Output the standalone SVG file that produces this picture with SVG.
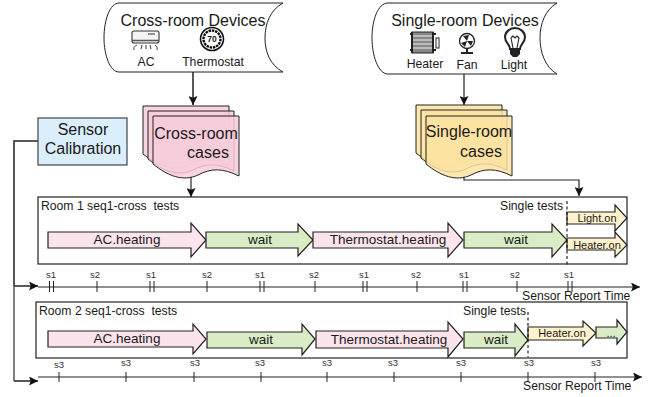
<svg xmlns="http://www.w3.org/2000/svg" width="657" height="397" viewBox="0 0 657 397">
<style>
text{font-family:"Liberation Sans",Arial,sans-serif;fill:#1a1a1a;white-space:pre}
.c{text-anchor:middle}
.t16{font-size:16px}.t135{font-size:13.5px}.t12{font-size:12.2px}.t11{font-size:11px}.t10{font-size:9.5px;fill:#333}
.cyl{fill:#fff;stroke:#222;stroke-width:1}
.pink{fill:#f8cdda;stroke:#222;stroke-width:1;fill-opacity:.85}
.yel{fill:#fde3a2;stroke:#222;stroke-width:1;fill-opacity:.85}
.box{fill:#fff;stroke:#222;stroke-width:1.2}
.a1{fill:#fce4ec;stroke:#222;stroke-width:1.2}
.a2{fill:#d9ecc6;stroke:#222;stroke-width:1.2}
.a3{fill:#fff2cc;stroke:#222;stroke-width:1.2}
.ln{fill:none;stroke:#222;stroke-width:1.2}
.ln2{fill:none;stroke:#222;stroke-width:1.5}
.tk{fill:none;stroke:#222;stroke-width:1}
.dash{fill:none;stroke:#111;stroke-width:1.1;stroke-dasharray:3 2.5}
.ic{fill:none;stroke:#222;stroke-width:1.3}
.icf{fill:#222;stroke:none}
</style>
<defs>
<marker id="ah" viewBox="0 0 10 10" refX="10" refY="5" markerWidth="10" markerHeight="9" markerUnits="userSpaceOnUse" orient="auto"><path d="M0 0L10 5L0 10L2 5Z" fill="#111"/></marker>
<path id="doc" d="M0 0H86V60C70 52 58 52 45 59C30 66 15 60 0 48Z"/>
</defs>
<g id="connectors">
<path class="ln2" d="M193 72V105" marker-end="url(#ah)"/>
<path class="ln" d="M464 74V105" marker-end="url(#ah)"/>
<path class="ln" d="M191 176V197" marker-end="url(#ah)"/>
<path class="ln" d="M464 176V180H579V196" marker-end="url(#ah)"/>
<path class="ln2" d="M38 141H14V286" />
<path class="ln2" d="M14 286H38" marker-end="url(#ah)"/>
<path fill="none" stroke="#555" stroke-width="1.5" d="M14 286V381"/>
<path class="ln2" d="M14 381H38" marker-end="url(#ah)"/>
</g>
<g id="cross-devices">
<path class="cyl" d="M119 3H283C270 10 265 24 265 38C265 52 270 65 283 72H119C110 72 104 55 104 38C104 20 110 3 119 3Z"/>
<text class="c t16" x="193" y="26">Cross-room Devices</text>
<g id="ac-icon"><rect x="132" y="31" width="27" height="12" rx="2" fill="#f4f4f4" stroke="#333" stroke-width="1.1"/><path fill="none" stroke="#555" stroke-width="1.5" d="M132 40.500H159"/><path fill="none" stroke="#333" d="M148 34H155"/><path class="ic" stroke-width=".9" style="stroke-width:.9" d="M134 50C133 46 136 46 137 45M141 49L142 45M146 49V45M150 45L151 49M155 45C156 46 158 47 157 50"/></g>
<g id="thermostat-icon"><circle cx="212" cy="39" r="11.500" fill="#fff" stroke="#111" stroke-width="1.6"/><circle cx="212" cy="39" r="8.500" fill="none" stroke="#111" stroke-width="2.400" stroke-dasharray="2.500 .8"/><text class="c" x="212" y="42" style="font-size:8.500px;font-weight:bold">70</text></g>
<text class="c t12" x="146" y="66">AC</text>
<text class="c t12" x="213" y="66">Thermostat</text>
</g>
<g id="single-devices">
<path class="cyl" d="M388 3H557C545 10 540 24 540 38C540 52 545 67 557 74H388C378 74 372 55 372 38C372 20 378 3 388 3Z"/>
<text class="c t16" x="465" y="26">Single-room Devices</text>
<g id="heater-icon"><rect x="412" y="32" width="21" height="21" fill="#888" stroke="#222"/><path stroke="#eee" stroke-width="1" d="M412 36H433M412 40H433M412 44H433M412 48H433"/><path stroke="#222" stroke-width="2" d="M412 32V53M433 32V53M410 34H413M432 34H436M410 50H413M432 50H436"/><rect style="stroke-width:1" class="ic" x="436" y="38" width="3" height="10"/></g>
<g id="fan-icon"><circle class="ic" cx="467" cy="41" r="7.500"/><path class="icf" d="M467 41L463 36L469 35ZM467 41L473 41L471 46ZM467 41L461 43L465 47Z"/><path class="icf" d="M466 48H468V52H473V54H461V52H466Z"/></g>
<g id="light-icon"><path class="ic" style="stroke-width:2" d="M510 49C510 44 505 43 505 37C505 32 510 28 515 28C520 28 525 32 525 37C525 43 520 44 520 49Z"/><path class="ic" style="stroke-width:1.100" d="M511 38L513 36L515 38L517 36L519 38L517 48M513 48L511 38"/><path class="icf" d="M510 50H520V54L517 57H513L510 54Z"/></g>
<text class="c t12" x="425" y="68">Heater</text>
<text class="c t12" x="467" y="69">Fan</text>
<text class="c t12" x="514" y="69">Light</text>
</g>
<g id="sensor-calibration">
<rect x="38" y="118" width="89" height="47" fill="#dbeefb" stroke="#444" stroke-width="1.2"/>
<text class="c t16" x="83" y="135">Sensor</text>
<text class="c t16" x="83" y="154">Calibration</text>
</g>
<g id="cross-cases">
<use href="#doc" class="pink" transform="translate(143 106)"/>
<use href="#doc" class="pink" transform="translate(148 111)"/>
<use href="#doc" class="pink" transform="translate(153 116)"/>
<text class="c t16" x="196" y="139">Cross-room</text>
<text class="c t16" x="208" y="158">cases</text>
</g>
<g id="single-cases">
<use href="#doc" class="yel" transform="translate(416 105)"/>
<use href="#doc" class="yel" transform="translate(421 110)"/>
<use href="#doc" class="yel" transform="translate(426 116)"/>
<text class="c t16" x="469" y="137">Single-room</text>
<text class="c t16" x="481" y="157">cases</text>
</g>
<g id="room1">
<rect class="box" x="38" y="197" width="589" height="67"/>
<text class="t12" x="41" y="210">Room 1 seq1-cross  tests</text>
<text class="t12" x="500" y="210">Single tests</text>
<path class="a1" d="M48 232H191V223L206 240L191 257V248H48Z"/>
<text class="c t135" x="127" y="244">AC.heating</text>
<path class="a2" d="M206 232H298V224L313 240L298 256V248H206Z"/>
<text class="c t135" x="260" y="244">wait</text>
<path class="a1" d="M313 232H448V223L463 240L448 257V248H313Z"/>
<text class="c t135" x="388" y="244">Thermostat.heating</text>
<path class="a2" d="M464 232H552V224L567 240L552 257V248H464Z"/>
<text class="c t135" x="516" y="244">wait</text>
<path class="a3" d="M567 212H615V205L627 218L615 231V224H567Z"/>
<text class="c t11" x="597" y="222">Light.on</text>
<path class="a3" d="M567 238H615V232L627 245L615 257V250H567Z"/>
<text class="c t11" x="597" y="249">Heater.on</text>
<path class="dash" d="M567 201V267"/>
</g>
<g id="timeline1">
<path class="ln" d="M38 287H640" marker-end="url(#ah)"/>
<path class="tk" d="M49.500 281V292M53.500 281V292M97 281V292M150 281V292M154 281V292M207 281V292M260 281V292M264 281V292M315 281V292M363 281V292M367 281V292M417 281V292M463 281V292M467 281V292M517 281V292M568 281V292M572 281V292"/>
<text class="c t10" x="51" y="278">s1</text><text class="c t10" x="95" y="278">s2</text><text class="c t10" x="151" y="278">s1</text><text class="c t10" x="207" y="278">s2</text><text class="c t10" x="260" y="278">s1</text><text class="c t10" x="314" y="278">s2</text><text class="c t10" x="364" y="278">s1</text><text class="c t10" x="416" y="278">s2</text><text class="c t10" x="464" y="278">s1</text><text class="c t10" x="515" y="278">s2</text><text class="c t10" x="569" y="278">s1</text>
<text class="t12" x="522" y="300">Sensor Report Time</text>
</g>
<g id="room2">
<rect class="box" x="36" y="302" width="591" height="56"/>
<text class="t12" x="39" y="315">Room 2 seq1-cross  tests</text>
<text class="t12" x="463" y="315">Single tests</text>
<path class="a1" d="M48 331H193V324L206 339L193 354V347H48Z"/>
<text class="c t135" x="127" y="343">AC.heating</text>
<path class="a2" d="M207 332H302V324L315 339L302 355V348H207Z"/>
<text class="c t135" x="261" y="344">wait</text>
<path class="a1" d="M316 331H448V322L463 339L448 357V348H316Z"/>
<text class="c t135" x="389" y="344">Thermostat.heating</text>
<path class="a2" d="M464 332H515V324L528 340L515 356V348H464Z"/>
<text class="c t135" x="496" y="344">wait</text>
<path class="a3" d="M528 327H583V321L596 333L583 346V340H528Z"/>
<text class="c t11" x="562" y="337">Heater.on</text>
<path class="a2" d="M596 327H617V320L627 332L617 344V338H596Z"/>
<text class="c t11" x="611" y="337">...</text>
<path class="dash" d="M528 312V357"/>
</g>
<g id="timeline2">
<path class="ln" d="M38 377H642" marker-end="url(#ah)"/>
<path class="tk" d="M59 372V382M126 372V382M194 372V382M261 372V382M327 372V382M394 372V382M461 372V382M528 372V382M595 372V382"/>
<text class="c t10" x="59" y="368">s3</text><text class="c t10" x="126" y="366">s3</text><text class="c t10" x="195" y="366">s3</text><text class="c t10" x="260" y="366">s3</text><text class="c t10" x="327" y="366">s3</text><text class="c t10" x="393" y="366">s3</text><text class="c t10" x="461" y="366">s3</text><text class="c t10" x="529" y="366">s3</text><text class="c t10" x="596" y="366">s3</text>
<text class="t12" x="523" y="390">Sensor Report Time</text>
</g>
</svg>
